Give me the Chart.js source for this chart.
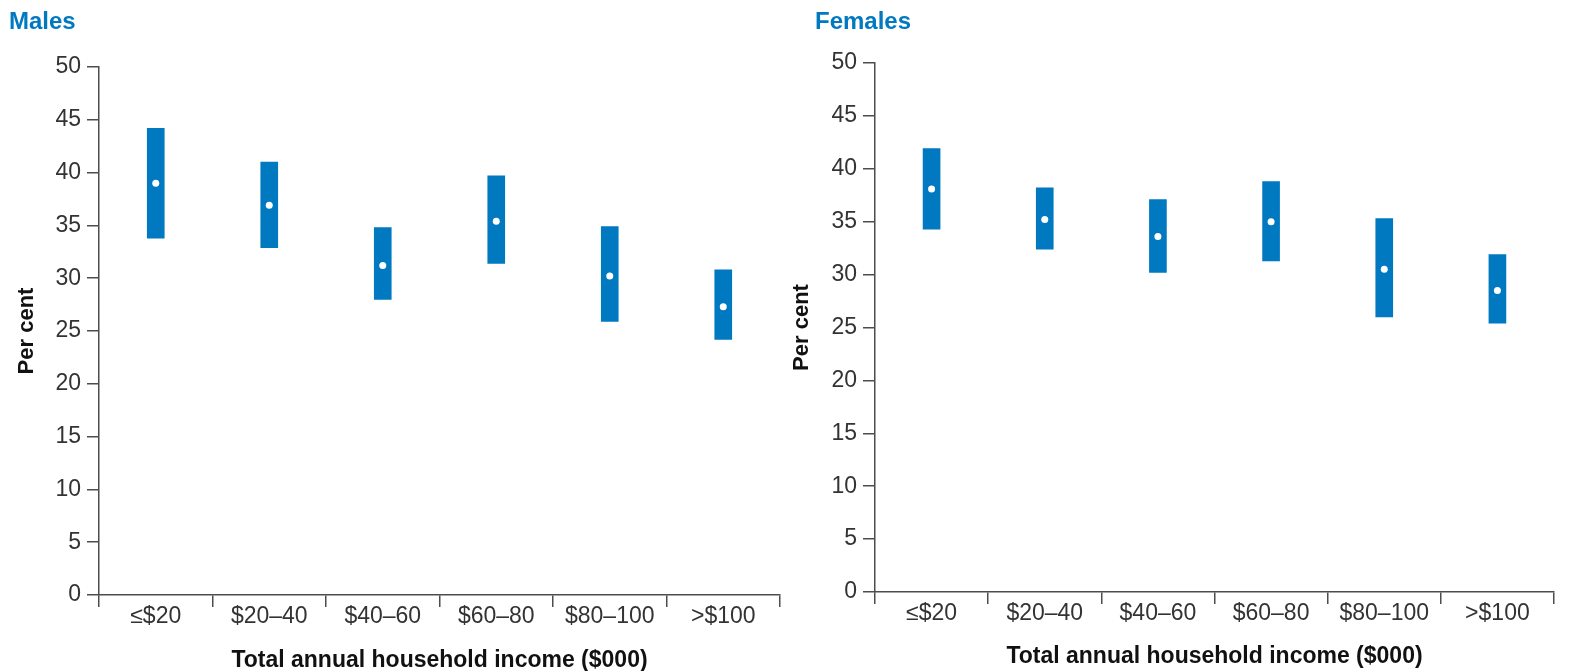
<!DOCTYPE html>
<html>
<head>
<meta charset="utf-8">
<script src="https://cdn.jsdelivr.net/npm/chart.js@4"></script>
<style>
  html, body { margin: 0; padding: 0; background: #fff; }
  .panel { position: absolute; top: 0; height: 671px; }
  #malesBox { left: 0; width: 784px; }
  #femalesBox { left: 784px; width: 785px; }
</style>
</head>
<body>
<div class="panel" id="malesBox"><canvas id="malesChart" width="784" height="671"></canvas></div>
<div class="panel" id="femalesBox"><canvas id="femalesChart" width="785" height="671"></canvas></div>
<script>
// income bands
const incomeLabels = ['≤$20', '$20–40', '$40–60', '$60–80', '$80–100', '>$100'];

// males: 95% CI low / high and point estimate (per cent)
const malesLow  = [33.8, 32.9, 28.0, 31.4, 25.9, 24.2];
const malesHigh = [44.2, 41.0, 34.8, 39.7, 34.9, 30.8];
const malesMean = [39.0, 36.9, 31.2, 35.4, 30.2, 27.3];

// females
const femalesLow  = [34.3, 32.4, 30.2, 31.3, 26.0, 25.4];
const femalesHigh = [41.9, 38.2, 37.1, 38.8, 35.3, 31.9];
const femalesMean = [38.1, 35.2, 33.6, 35.0, 30.5, 28.5];

const yTicks = [0, 5, 10, 15, 20, 25, 30, 35, 40, 45, 50];

const BLUE = '#0079c1';
const AXIS = '#4d4d4d';
const FONT = "'Liberation Sans', Arial, sans-serif";

// panel heading ("Males" / "Females") drawn on the canvas
const headingPlugin = {
  id: 'panelHeading',
  afterDraw(chart, args, opts) {
    const ctx = chart.ctx;
    ctx.save();
    ctx.font = 'bold 24px ' + FONT;
    ctx.fillStyle = BLUE;
    ctx.textBaseline = 'middle';
    ctx.textAlign = 'left';
    ctx.fillText(opts.text, opts.x, opts.y);
    ctx.restore();
  }
};

function makeChart(id, low, high, mean, cfg) {
  const ctx = document.getElementById(id).getContext('2d');
  return new Chart(ctx, {
    type: 'bar',
    data: {
      labels: incomeLabels,
      datasets: [
        {
          type: 'line',
          data: mean,
          showLine: false,
          pointRadius: 3.5,
          pointHoverRadius: 3.5,
          pointBackgroundColor: '#ffffff',
          pointBorderWidth: 0,
          order: 0
        },
        {
          data: low.map((v, i) => [v, high[i]]),
          backgroundColor: BLUE,
          borderWidth: 0,
          barThickness: 17,
          order: 1
        }
      ]
    },
    options: {
      responsive: false,
      animation: false,
      devicePixelRatio: 1,
      layout: { padding: cfg.padding },
      plugins: {
        legend: { display: false },
        tooltip: { enabled: false },
        panelHeading: { text: cfg.heading, x: cfg.headX, y: 22 }
      },
      scales: {
        x: {
          offset: true,
          grid: {
            offset: true,
            drawOnChartArea: false,
            drawTicks: true,
            tickLength: 12,
            color: AXIS,
            lineWidth: 1.5
          },
          border: { display: true, color: AXIS, width: 1.5 },
          ticks: {
            color: '#333',
            padding: -4,
            font: { family: FONT, size: 23 }
          },
          title: {
            display: true,
            text: 'Total annual household income ($000)',
            color: '#111',
            font: { family: FONT, size: 23, weight: 'bold' },
            padding: { top: 0, bottom: cfg.xTitlePad }
          },
          afterFit(scale) { scale.height = cfg.xHeight; }
        },
        y: {
          min: 0,
          max: 50,
          afterBuildTicks(scale) { scale.ticks = yTicks.map(v => ({ value: v })); },
          grid: {
            drawOnChartArea: false,
            drawTicks: true,
            tickLength: 12,
            color: AXIS,
            lineWidth: 1.5
          },
          border: { display: true, color: AXIS, width: 1.5 },
          ticks: {
            color: '#333',
            padding: 6,
            font: { family: FONT, size: 23 }
          },
          title: {
            display: true,
            text: 'Per cent',
            color: '#111',
            font: { family: FONT, size: 22, weight: 'bold' },
            padding: { top: 0, bottom: 0 }
          },
          afterFit(scale) { scale.width = cfg.yWidth; }
        }
      }
    },
    plugins: [headingPlugin]
  });
}

makeChart('malesChart', malesLow, malesHigh, malesMean, {
  heading: 'Males', headX: 9,
  padding: { left: 14, right: 4, top: 67, bottom: 0 },
  yWidth: 85, xHeight: 76, xTitlePad: -3
});

makeChart('femalesChart', femalesLow, femalesHigh, femalesMean, {
  heading: 'Females', headX: 31,
  padding: { left: 5, right: 15, top: 63, bottom: 0 },
  yWidth: 86, xHeight: 79, xTitlePad: 1
});
</script>
</body>
</html>
